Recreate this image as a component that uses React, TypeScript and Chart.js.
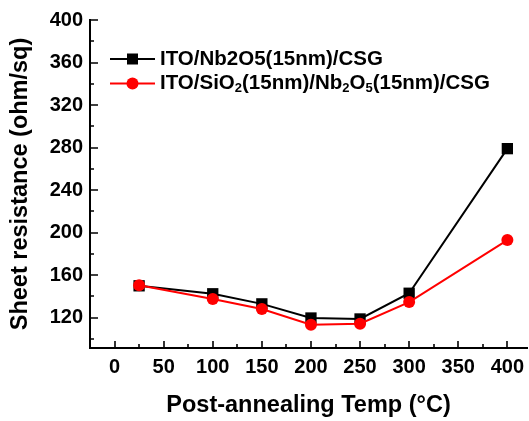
import React, { useEffect, useRef } from "react";
import { Chart, registerables } from "chart.js";

Chart.register(...registerables);

const temps = [25, 100, 150, 200, 250, 300, 400];
const nb2o5Series = [150, 142.5, 133, 119.7, 118.8, 143, 279];
const sio2Series = [150.5, 137.6, 128.2, 113.4, 114.4, 134.7, 193];
const xTickValues = [0, 50, 100, 150, 200, 250, 300, 350, 400];
const xMinorValues = [25, 75, 125, 175, 225, 275, 325, 375];
const yTickValues = [120, 160, 200, 240, 280, 320, 360, 400];
const yMinorValues = [100, 140, 180, 220, 260, 300, 340, 380];

const FONT = "'Liberation Sans', Arial, Helvetica, sans-serif";

const inwardTicks = {
  id: "inwardTicks",
  beforeDatasetsDraw(chart: any) {
    const ctx = chart.ctx;
    const { left, bottom } = chart.chartArea;
    const xs = chart.scales.x;
    const ys = chart.scales.y;
    ctx.save();
    ctx.strokeStyle = "#000";
    ctx.lineWidth = 1.6;
    ctx.beginPath();
    const draw = (vals: number[], len: number, horiz: boolean) => {
      vals.forEach((v) => {
        if (horiz) {
          const px = Math.round(xs.getPixelForValue(v));
          ctx.moveTo(px, bottom);
          ctx.lineTo(px, bottom - len);
        } else {
          const py = Math.round(ys.getPixelForValue(v));
          ctx.moveTo(left, py);
          ctx.lineTo(left + len, py);
        }
      });
    };
    draw(xTickValues, 7, true);
    draw(xMinorValues, 4, true);
    draw(yTickValues, 8, false);
    draw(yMinorValues, 4, false);
    ctx.stroke();
    ctx.restore();
  },
};

const customLegend = {
  id: "customLegend",
  afterDraw(chart: any) {
    const ctx = chart.ctx;
    ctx.save();
    const rows = [
      {
        y: 59,
        color: "#000000",
        marker: "rect",
        segs: [["ITO/Nb2O5(15nm)/CSG", false]],
      },
      {
        y: 83.5,
        color: "#ff0000",
        marker: "circle",
        segs: [
          ["ITO/SiO", false],
          ["2", true],
          ["(15nm)/Nb", false],
          ["2", true],
          ["O", false],
          ["5", true],
          ["(15nm)/CSG", false],
        ],
      },
    ];
    rows.forEach((r: any) => {
      ctx.strokeStyle = r.color;
      ctx.fillStyle = r.color;
      ctx.lineWidth = 2;
      ctx.beginPath();
      ctx.moveTo(110, r.y);
      ctx.lineTo(155, r.y);
      ctx.stroke();
      if (r.marker === "rect") {
        ctx.fillRect(127, r.y - 5.5, 11, 11);
      } else {
        ctx.beginPath();
        ctx.arc(132.5, r.y, 6, 0, Math.PI * 2);
        ctx.fill();
      }
      ctx.fillStyle = "#000";
      ctx.textBaseline = "middle";
      ctx.textAlign = "left";
      let x = 160;
      r.segs.forEach(([t, sub]: [string, boolean]) => {
        if (sub) {
          ctx.font = `bold 13px ${FONT}`;
          ctx.fillText(t, x, r.y + 5);
        } else {
          ctx.font = `bold 20.5px ${FONT}`;
          ctx.fillText(t, x, r.y);
        }
        x += ctx.measureText(t).width;
      });
    });
    ctx.restore();
  },
};

export default function App() {
  const ref = useRef<HTMLCanvasElement | null>(null);
  useEffect(() => {
    if (!ref.current) return;
    const chart = new Chart(ref.current, {
      type: "line",
      data: {
        datasets: [
          {
            label: "ITO/SiO2(15nm)/Nb2O5(15nm)/CSG",
            data: temps.map((t, i) => ({ x: t, y: sio2Series[i] })),
            borderColor: "#ff0000",
            backgroundColor: "#ff0000",
            pointStyle: "circle",
            pointRadius: 6,
            pointBorderWidth: 0,
            borderWidth: 2,
            tension: 0,
          },
          {
            label: "ITO/Nb2O5(15nm)/CSG",
            data: temps.map((t, i) => ({ x: t, y: nb2o5Series[i] })),
            borderColor: "#000000",
            backgroundColor: "#000000",
            pointStyle: "rect",
            pointRadius: 8,
            pointBorderWidth: 0,
            borderWidth: 2,
            tension: 0,
          },
        ],
      },
      options: {
        responsive: false,
        animation: false,
        layout: { autoPadding: false, padding: { top: 20, right: 2, left: 0, bottom: 0 } },
        plugins: { legend: { display: false }, tooltip: { enabled: false } },
        scales: {
          x: {
            type: "linear",
            min: -25,
            max: 420,
            afterBuildTicks: (s: any) => {
              s.ticks = xTickValues.map((v) => ({ value: v }));
            },
            afterFit: (s: any) => {
              s.height = 73;
              s.paddingLeft = 0;
              s.paddingRight = 0;
            },
            grid: { display: true, drawOnChartArea: false, drawTicks: false },
            border: { display: true, color: "#000", width: 2 },
            ticks: {
              color: "#000",
              font: { family: FONT, size: 20, weight: "bold" },
              padding: 7,
              maxRotation: 0,
              autoSkip: false,
            },
            title: {
              display: true,
              text: "Post-annealing Temp (°C)",
              color: "#000",
              font: { family: FONT, size: 23.5, weight: "bold" },
              padding: { top: 0, bottom: 1 },
            },
          },
          y: {
            type: "linear",
            min: 91.5,
            max: 400,
            afterBuildTicks: (s: any) => {
              s.ticks = yTickValues.map((v) => ({ value: v }));
            },
            afterFit: (s: any) => {
              s.width = 90;
              s.paddingTop = 0;
              s.paddingBottom = 0;
            },
            grid: { display: true, drawOnChartArea: false, drawTicks: false },
            border: { display: true, color: "#000", width: 2 },
            ticks: {
              color: "#000",
              font: { family: FONT, size: 20, weight: "bold" },
              padding: 7,
              autoSkip: false,
            },
            title: {
              display: true,
              text: "Sheet resistance (ohm/sq)",
              color: "#000",
              font: { family: FONT, size: 23.5, weight: "bold" },
              padding: { top: 6, bottom: 0 },
            },
          },
        },
      },
      plugins: [inwardTicks, customLegend],
    });
    return () => chart.destroy();
  }, []);
  return (
    <div style={{ position: "fixed", left: 0, top: 0, width: 529, height: 421, background: "#fff" }}>
      <canvas ref={ref} width={529} height={421} style={{ width: 529, height: 421 }} />
    </div>
  );
}
